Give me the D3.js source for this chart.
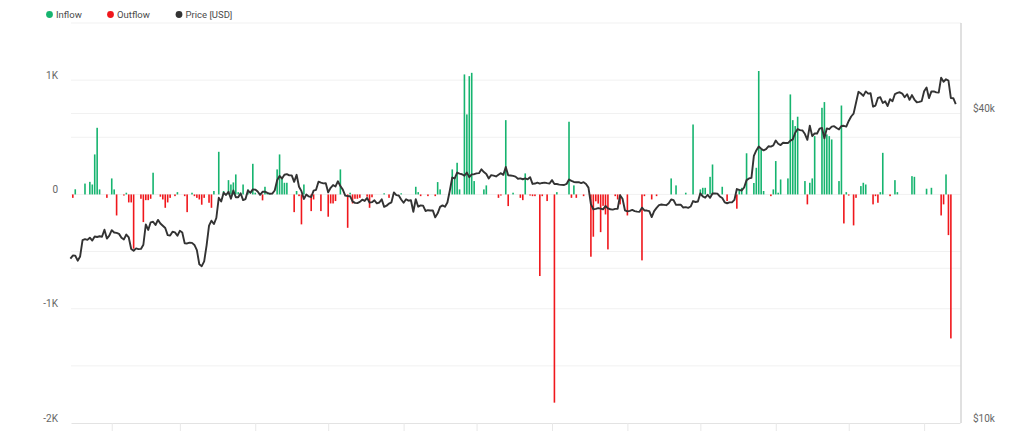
<!DOCTYPE html>
<html><head><meta charset="utf-8">
<script src="https://cdn.jsdelivr.net/npm/d3@7"></script>
<style>
body{margin:0;background:#fff;}
svg{display:block;font-family:Roboto,"Noto Sans",sans-serif;}
</style></head><body>
<svg id="chart" width="1030" height="438"></svg>
<script>
// ---- data (daily, starting 2023-01-15 UTC) ----
const startDate = "2023-01-15";
const netflow = [
0,-30,45,0,0,0,95,0,110,87,
350,583,44,0,0,-30,0,140,44,-184,
0,0,-10,15,-70,-70,-475,0,0,-38,
-242,-50,-50,-38,190,0,0,-20,-44,-117,
-70,-30,0,-15,20,0,0,-15,-155,0,
15,-15,-30,-44,-90,-30,0,-73,-117,30,
0,373,0,30,0,125,87,105,175,20,
0,87,0,44,0,268,15,0,0,-52,
67,15,0,0,0,219,350,146,102,102,
0,0,-155,30,-15,-262,87,0,0,-146,
-44,0,0,-146,0,0,-195,-79,-79,-58,
0,219,0,0,-292,15,-79,-38,-38,-30,
0,0,-20,-117,-25,0,0,0,0,10,
0,-30,0,0,0,0,10,0,0,0,
0,0,67,20,-15,0,0,-15,0,0,
-15,108,44,0,0,0,0,219,146,277,
44,0,1050,700,1035,1064,117,0,0,0,
44,79,0,0,0,0,-30,-10,0,650,
-102,0,15,0,0,-30,-50,184,0,-10,
-15,-15,0,-714,-15,0,-58,0,0,-1822,
20,0,0,0,0,636,-30,79,-30,0,
0,-15,0,0,-545,-370,-60,-80,-330,-100,
-175,-481,0,0,-15,-44,-87,0,0,-184,
0,0,0,0,0,-577,-15,0,0,-44,
0,-15,0,0,0,0,0,140,0,79,
0,0,0,15,0,0,612,0,0,44,
58,58,0,154,262,0,0,0,67,0,
-58,0,0,0,-125,44,58,0,360,0,
0,100,233,1080,394,30,0,0,-15,44,
292,15,131,0,0,140,875,650,598,680,
0,0,117,-87,102,140,510,0,0,758,
808,525,510,481,0,0,117,778,-254,20,
-10,0,-271,-30,0,73,102,87,0,0,
-87,-15,-73,20,364,0,0,-15,0,125,
20,0,0,0,0,0,160,154,0,0,
0,0,50,0,58,0,0,0,-184,-87,
175,-356,-1260
];
const price = [
20880,21170,21160,20690,21090,22680,22780,22710,22930,22640,23060,23010,23080,23030,23770,22840,23140,
23720,23470,23430,23330,22930,22760,23260,22960,21800,21630,21860,21790,21810,22220,24330,23740,24570,24630,24280,24840,24440,24190,23950,23200,23150,23550,23490,23140,
23650,23470,22360,22350,22430,22410,22200,21700,20360,20190,20630,22160,24200,24750,24380,25050,27420,26970,28040,27770,28170,27310,28330,27490,27490,27990,27140,27270,28350,28030,28480,
28450,28200,27790,28170,28180,28040,27920,27950,28330,29670,30240,29900,30400,30490,30320,30320,29450,30400,28820,28250,27280,27820,27590,27520,28310,28420,29470,29340,29250,29270,
28090,28680,29030,28850,29530,28900,28450,27690,27630,27620,26990,26800,26780,26930,27190,27040,27400,26830,26890,27120,26750,26850,27230,26330,26470,26720,26870,28090,27750,27700,27220,
26820,27250,27070,27120,25760,27240,26350,26510,26480,25850,25940,25900,25920,25120,25580,26330,26510,26340,26850,28330,30030,29910,30700,30550,30470,30270,30700,30080,30450,30480,
30590,30620,31160,30770,30510,29900,30350,30290,30170,30410,30620,30390,31480,30330,30300,30250,30150,29860,29910,29800,29910,29790,30080,29180,29230,29350,29220,29310,29350,29280,29230,
29680,29180,29170,29090,29050,29040,29180,29770,29580,29440,29400,29410,29280,29410,29170,28700,26660,26050,26100,26190,26120,26040,26430,26160,26050,26010,26090,26110,27730,27300,25930,
25800,25870,25970,25830,25780,25750,26240,25910,25900,25830,25160,25840,26220,26530,26610,26570,26530,26760,27210,27130,26570,26580,26580,26250,26300,26220,26370,27020,26910,26970,
27980,27590,27430,27800,27420,27950,27970,27940,27590,27390,26870,26760,26860,26860,27160,28520,28420,28330,28720,29680,29910,29990,33090,33900,34500,34160,33910,34090,34540,34490,34670,
35440,34940,34730,35080,35050,35040,35420,35620,36700,37310,37130,37070,36490,35550,37880,36150,36600,36580,37390,37480,35810,37430,37290,37720,37800,37480,37250,37830,37860,37720,
38690,39470,39980,41980,44080,43750,43290,44170,43730,43790,41240,41450,42890,43020,41930,42240,41360,42660,42270,43650,43860,43990,43740,43020,43610,42520,43440,42580,42070,42140,42280,
44180,44950,42850,44180,44160,43970,43930,46970,46120,46630,46370,42850,42840,41730
];
const leftTickValues = [-2000,-1000,0,1000];
const leftTickLabels = ["-2K","-1K","0","1K"];
const leftGridValues = [-1500,-1000,-500,0,500,1000,1500];
const rightTickValues = [10000,40000];
const rightTickLabels = ["$10k","$40k"];
const rightGridValues = [20000,40000];
const legendLabels = ["Inflow","Outflow","Price [USD]"];
const colors = {inflow:"#16b46f", outflow:"#f0171c", price:"#333333"};

// ---- layout ----
const L = 71, R = 961, T = 23, B = 423;
const svg = d3.select("#chart");
const parse = d3.utcParse("%Y-%m-%d");
const start = parse(startDate);
const dayOf = i => d3.utcDay.offset(start, i);

const x = d3.scaleUtc()
  .domain([d3.utcHour.offset(start, 6), d3.utcHour.offset(parse("2024-01-15"), 18)])
  .range([L, 960]);
const yL = d3.scaleLinear().domain([-2000, 1500]).range([B, T]);
const yR = d3.scaleLog().domain([10000, 60000]).range([B, T]);

// grid
svg.append("g").selectAll("line").data(leftGridValues).join("line")
  .attr("x1", L).attr("x2", R).attr("y1", d => yL(d)).attr("y2", d => yL(d))
  .attr("stroke", "#f1f1f1").attr("stroke-width", 1);
svg.append("g").selectAll("line").data(rightGridValues).join("line")
  .attr("x1", L).attr("x2", R).attr("y1", d => yR(d)).attr("y2", d => yR(d))
  .attr("stroke", "#f1f1f1").attr("stroke-width", 1);

// bottom axis (tick marks only)
const xAxis = svg.append("g").attr("transform", `translate(0,${B})`)
  .call(d3.axisBottom(x).ticks(d3.utcMonth.every(1)).tickFormat(() => "").tickSize(8).tickSizeOuter(0));
xAxis.select(".domain").attr("stroke", "#e3e3e3").attr("stroke-width", 1.2);
xAxis.selectAll(".tick line").attr("stroke", "#e8e8e8");

// right border
svg.append("line").attr("x1", R).attr("x2", R).attr("y1", T).attr("y2", B)
  .attr("stroke", "#d6d6d6").attr("stroke-width", 1.5);

// left axis labels
const la = svg.append("g").attr("transform", `translate(${L},0)`)
  .call(d3.axisLeft(yL).tickValues(leftTickValues).tickSize(0).tickPadding(13)
    .tickFormat((d, i) => leftTickLabels[i]));
la.select(".domain").remove();
la.selectAll("text").attr("dy", "-0.2em").attr("fill", "#666").style("font-size", "10px").style("font-family", "Roboto, sans-serif");

// right axis labels
const ra = svg.append("g").attr("transform", `translate(${R},0)`)
  .call(d3.axisRight(yR).tickValues(rightTickValues).tickSize(0).tickPadding(12)
    .tickFormat((d, i) => rightTickLabels[i]));
ra.select(".domain").remove();
ra.selectAll("text").attr("dy", "-0.2em").attr("fill", "#666").style("font-size", "10px").style("font-family", "Roboto, sans-serif");

// bars
const bw = 1.6;
svg.append("g").selectAll("rect").data(netflow.map((v, i) => ({v, d: dayOf(i)})).filter(e => e.v !== 0)).join("rect")
  .attr("x", e => x(e.d) - bw / 2)
  .attr("width", bw)
  .attr("y", e => Math.min(yL(e.v), yL(0)))
  .attr("height", e => Math.abs(yL(e.v) - yL(0)))
  .attr("fill", e => e.v > 0 ? colors.inflow : colors.outflow);

// price line
svg.append("path").datum(price)
  .attr("fill", "none").attr("stroke", colors.price).attr("stroke-width", 1.9)
  .attr("stroke-linejoin", "round")
  .attr("d", d3.line().x((d, i) => x(dayOf(i))).y(d => yR(d)));

// legend
const legendX = [49.5, 110.5, 179];
const legendColors = [colors.inflow, colors.outflow, colors.price];
const lg = svg.append("g");
legendLabels.forEach((t, i) => {
  lg.append("circle").attr("cx", legendX[i]).attr("cy", 14.5).attr("r", 3.4).attr("fill", legendColors[i]);
  lg.append("text").attr("x", legendX[i] + 6.5).attr("y", 18).text(t)
    .attr("fill", "#4a4a4a").style("font-size", "9.5px");
});
</script>
</body></html>
